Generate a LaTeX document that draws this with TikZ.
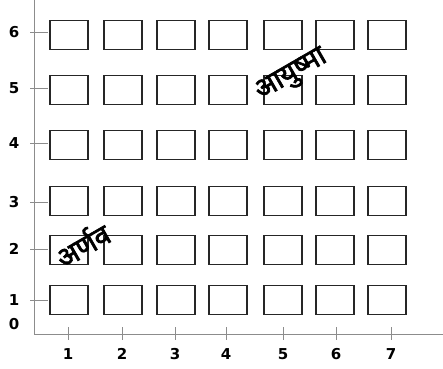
\documentclass[tikz,border=0pt]{standalone}
\usepackage{fontspec}
\setmainfont{DejaVu Sans}
\newfontfamily\devfont[Script=Devanagari,FakeBold=2.5]{Noto Sans}
\begin{document}
\begin{tikzpicture}[x=1pt,y=-1pt,
  cell/.style={draw=black!85,line width=1.6pt,minimum width=38pt,minimum height=29pt,inner sep=0pt},
  axis/.style={draw=black!45,line width=0.8pt},
  tickline/.style={draw=black!45,line width=0.8pt},
  num/.style={font=\bfseries\fontsize{15}{15}\selectfont,inner sep=0pt},
  dev/.style={font=\devfont\fontsize{28}{28}\selectfont,inner sep=0pt,rotate=30}]
\useasboundingbox (0,0) rectangle (443,368);
% axes
\coordinate (otop) at (34,0);
\coordinate (origin) at (34,334);
\coordinate (xend) at (443,334);
\draw[axis] (otop) -- (origin) -- (xend);
% boxes
\foreach \c/\x in {1/69,2/123,3/176,4/228,5/283,6/335,7/387}{
  \foreach \r/\y in {6/35,5/90,4/145,3/201,2/250,1/300}{
    \node[cell] (b\c\r) at (\x,\y) {};
  }
}
% y ticks and labels
\foreach \r/\y in {6/32,5/88,4/143,3/202,2/249,1/300}{
  \coordinate (ya\r) at (30,\y);
  \coordinate (yb\r) at (48,\y);
  \draw[tickline] (ya\r) -- (yb\r);
  \node[num] (yl\r) at (14,\y) {\r};
}
\node[num] (yl0) at (14,324) {0};
% x ticks and labels
\foreach \c/\x in {1/68,2/122,3/175,4/226,5/283,6/336,7/391}{
  \coordinate (xa\c) at (\x,327);
  \coordinate (xb\c) at (\x,340);
  \draw[tickline] (xa\c) -- (xb\c);
  \node[num] (xl\c) at (\x,354) {\c};
}
% names
\node[dev] (arnav) at (82,244) {अर्णव};
\node[dev] (ayushma) at (292,76) {आयुष्मा};
\end{tikzpicture}
\end{document}
